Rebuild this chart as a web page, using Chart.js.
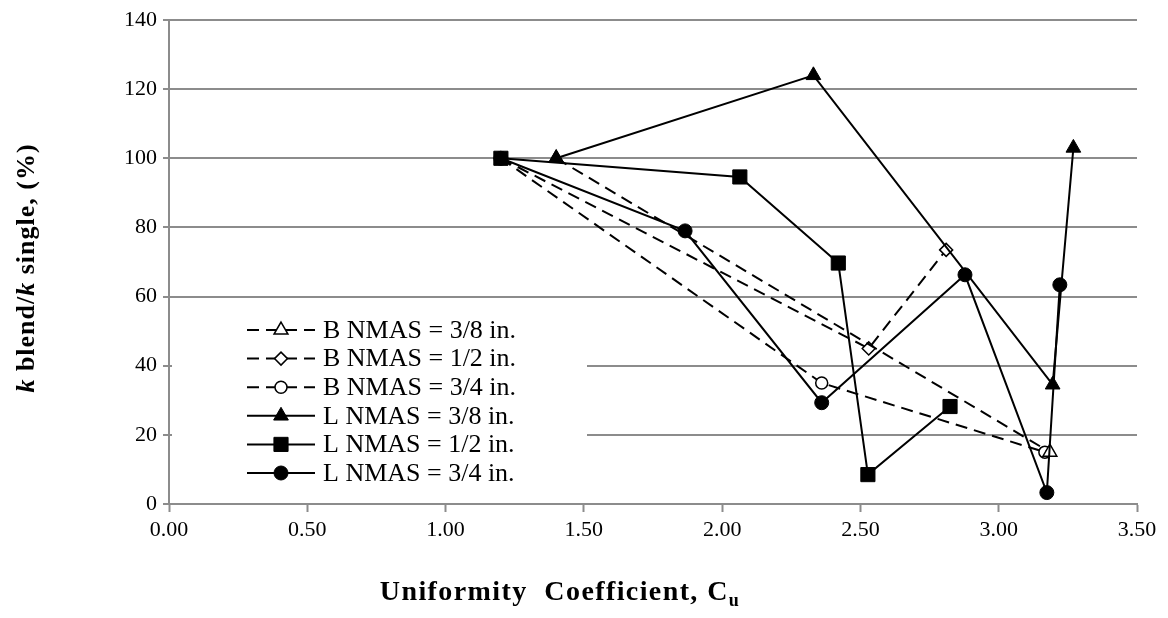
<!DOCTYPE html>
<html>
<head>
<meta charset="utf-8">
<script src="https://cdn.jsdelivr.net/npm/chart.js@4.4.1/dist/chart.umd.min.js"></script>
<style>
  html, body { margin: 0; padding: 0; background: #fff; }
  #wrap { width: 1168px; height: 618px; position: relative; }
</style>
</head>
<body>
<div id="wrap"><canvas id="c" width="1168" height="618"></canvas></div>
<script>
// ---- data ----
const seriesNames = ['B NMAS = 3/8 in.', 'B NMAS = 1/2 in.', 'B NMAS = 3/4 in.',
                     'L NMAS = 3/8 in.', 'L NMAS = 1/2 in.', 'L NMAS = 3/4 in.'];
const b38x = [1.40, 3.185];
const b38y = [100, 15];
const b12x = [1.20, 2.53, 2.81];
const b12y = [100, 45, 73.5];
const b34x = [1.20, 2.36, 3.167];
const b34y = [100, 35, 15];
const l38x = [1.40, 2.33, 3.195, 3.27];
const l38y = [100, 124, 34.5, 103];
const l12x = [1.20, 2.064, 2.42, 2.527, 2.824];
const l12y = [100, 94.6, 69.7, 8.5, 28.2];
const l34x = [1.20, 1.866, 2.36, 2.878, 3.174, 3.221];
const l34y = [100, 79, 29.3, 66.3, 3.3, 63.4];
const xTicks = [0, 0.5, 1, 1.5, 2, 2.5, 3, 3.5];
const yTicks = [0, 20, 40, 60, 80, 100, 120, 140];

const pts = (xs, ys) => xs.map((x, i) => ({ x: x, y: ys[i] }));
const SERIF = '"Liberation Serif", "Times New Roman", serif';

function ds(name, xs, ys, dashed, style, radius, filled) {
  return {
    label: name,
    data: pts(xs, ys),
    showLine: true,
    borderColor: '#000',
    borderWidth: 2,
    borderDash: dashed ? [12, 7] : [],
    pointStyle: style,
    pointRadius: radius,
    pointHoverRadius: radius,
    pointBackgroundColor: filled ? '#000' : '#fff',
    pointBorderColor: '#000',
    pointBorderWidth: filled ? 1 : 1.5,
    order: dashed ? 2 : 1,
    fill: false,
    tension: 0
  };
}

const datasets = [
  ds(seriesNames[0], b38x, b38y, true, 'triangle', 8, false),
  ds(seriesNames[1], b12x, b12y, true, 'rectRot', 6.5, false),
  ds(seriesNames[2], b34x, b34y, true, 'circle', 6, false),
  ds(seriesNames[3], l38x, l38y, false, 'triangle', 8.5, true),
  ds(seriesNames[4], l12x, l12y, false, 'rect', 10, true),
  ds(seriesNames[5], l34x, l34y, false, 'circle', 7, true)
];

const legendPlugin = {
  id: 'customLegend',
  afterDraw(chart) {
    const ctx = chart.ctx;
    ctx.save();
    ctx.fillStyle = '#fff';
    ctx.fillRect(172, 314, 415, 184);
    chart.data.datasets.forEach((d, i) => {
      const y = 330 + i * 28.6;
      ctx.save();
      ctx.strokeStyle = '#000';
      ctx.lineWidth = 2;
      ctx.setLineDash(d.borderDash);
      ctx.beginPath();
      ctx.moveTo(247, y);
      ctx.lineTo(315, y);
      ctx.stroke();
      ctx.restore();
      ctx.save();
      ctx.fillStyle = d.pointBackgroundColor;
      ctx.strokeStyle = '#000';
      ctx.lineWidth = d.pointBorderWidth;
      Chart.helpers.drawPoint(ctx, { pointStyle: d.pointStyle, radius: d.pointRadius, rotation: 0, borderWidth: d.pointBorderWidth }, 281, y);
      ctx.restore();
      ctx.save();
      ctx.fillStyle = '#000';
      ctx.font = '26px ' + SERIF;
      ctx.textBaseline = 'middle';
      ctx.textAlign = 'left';
      ctx.fillText(d.label, 323, y + 1);
      ctx.restore();
    });
    ctx.restore();
  }
};

const titlePlugin = {
  id: 'axisTitles',
  afterDraw(chart) {
    const ctx = chart.ctx;
    ctx.save();
    ctx.fillStyle = '#000';
    ctx.textBaseline = 'alphabetic';
    ctx.textAlign = 'left';
    // X title with subscript
    ctx.letterSpacing = '1.4px';
    const main = 'Uniformity  Coefficient, C';
    ctx.font = 'bold 28px ' + SERIF;
    const w1 = ctx.measureText(main).width;
    ctx.font = 'bold 18px ' + SERIF;
    const w2 = ctx.measureText('u').width;
    const x0 = 560 - (w1 + w2) / 2;
    ctx.font = 'bold 28px ' + SERIF;
    ctx.fillText(main, x0, 600);
    ctx.font = 'bold 18px ' + SERIF;
    ctx.fillText('u', x0 + w1, 606);
    // Y title, rotated, with italic k
    ctx.letterSpacing = '1px';
    const parts = [
      ['italic bold 26px ', 'k'],
      ['bold 26px ', ' blend/'],
      ['italic bold 26px ', 'k'],
      ['bold 26px ', ' single, (%)']
    ];
    let total = 0;
    parts.forEach(p => { ctx.font = p[0] + SERIF; total += ctx.measureText(p[1]).width; });
    ctx.translate(34, 268);
    ctx.rotate(-Math.PI / 2);
    let cx = -total / 2;
    parts.forEach(p => {
      ctx.font = p[0] + SERIF;
      ctx.fillText(p[1], cx, 0);
      cx += ctx.measureText(p[1]).width;
    });
    ctx.restore();
  }
};

new Chart(document.getElementById('c'), {
  type: 'scatter',
  data: { datasets: datasets },
  options: {
    responsive: false,
    animation: false,
    devicePixelRatio: 1,
    layout: { padding: { left: 0, right: 31, top: 20, bottom: 0 } },
    plugins: { legend: { display: false }, tooltip: { enabled: false } },
    scales: {
      x: {
        type: 'linear',
        min: 0, max: 3.5,
        afterBuildTicks: s => { s.ticks = xTicks.map(v => ({ value: v })); },
        afterFit: s => { s.height = 114; },
        ticks: { font: { family: SERIF, size: 22 }, color: '#000', padding: 5,
                 callback: v => Number(v).toFixed(2) },
        grid: { drawOnChartArea: false, drawTicks: true, tickLength: 8, color: '#8c8c8c', tickWidth: 2 },
        border: { display: true, color: '#8c8c8c', width: 2 }
      },
      y: {
        min: 0, max: 140,
        afterBuildTicks: s => { s.ticks = yTicks.map(v => ({ value: v })); },
        afterFit: s => { s.width = 169; },
        ticks: { font: { family: SERIF, size: 22 }, color: '#000', padding: 6 },
        grid: { color: '#8c8c8c', lineWidth: 2, drawTicks: true, tickLength: 6 },
        border: { display: true, color: '#8c8c8c', width: 2 }
      }
    }
  },
  plugins: [legendPlugin, titlePlugin]
});
</script>
</body>
</html>
